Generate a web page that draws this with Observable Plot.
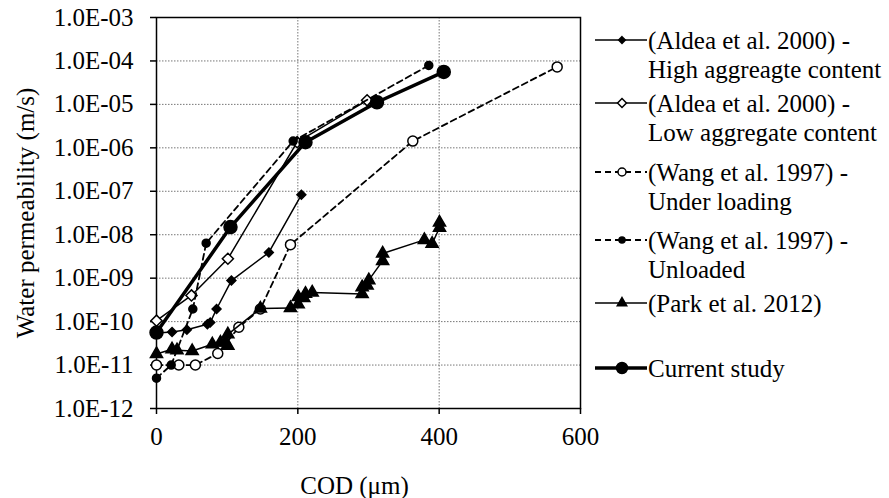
<!DOCTYPE html>
<html>
<head>
<meta charset="utf-8">
<script src="https://cdn.jsdelivr.net/npm/d3@7"></script>
<script src="https://cdn.jsdelivr.net/npm/@observablehq/plot@0.6"></script>
<style>
  html, body { margin: 0; padding: 0; background: white; }
  #wrap { position: relative; width: 889px; height: 498px; }
  #chart { position: absolute; left: 0; top: 0; }
  #legend { position: absolute; left: 590px; top: 0; }
  svg text { font-family: "Liberation Serif", "Times New Roman", Tinos, "DejaVu Serif", serif !important; }
</style>
</head>
<body>
<div id="wrap"><div id="chart"></div><svg id="legend" width="299" height="498"></svg></div>
<script>
// ---- data ----
const aldeaHighCOD = [0, 22, 43, 72, 76, 85, 106, 159, 205];
const aldeaHighK   = [5.5e-11, 5.8e-11, 6.5e-11, 8.7e-11, 9.5e-11, 1.95e-10, 8.8e-10, 3.9e-9, 8.3e-8];

const aldeaLowCOD = [0, 49.5, 101, 199, 298];
const aldeaLowK   = [1.05e-10, 4e-10, 2.8e-9, 1.35e-6, 1.24e-5];

const wangLoadCOD = [0, 31.6, 55, 86.7, 116.5, 147, 189.6, 362.7, 567];
const wangLoadK   = [1e-11, 1e-11, 1e-11, 1.85e-11, 7.4e-11, 1.95e-10, 5.9e-9, 1.43e-6, 7.3e-5];

const wangUnloadCOD = [0, 20.8, 51.4, 70.3, 193.4, 385.3];
const wangUnloadK   = [5e-12, 1e-11, 1.95e-10, 6.4e-9, 1.43e-6, 7.9e-5];

const parkCOD = [0, 22, 29, 50.5, 79, 90.5, 97.6, 101, 101, 147, 189.6, 200.5, 200.5, 208.4, 210.8, 220.3, 291, 291, 298, 300.4, 320, 320, 379, 390, 400.5, 400.5];
const parkK   = [1.8e-11, 2.3e-11, 2.2e-11, 2.1e-11, 3e-11, 3.3e-11, 3.3e-11, 2.8e-11, 5.1e-11, 2e-10, 2.05e-10, 2.5e-10, 3.7e-10, 3.5e-10, 4.4e-10, 4.7e-10, 4.3e-10, 6.2e-10, 6.8e-10, 9e-10, 2.5e-9, 3.7e-9, 7.6e-9, 6.2e-9, 1.45e-8, 1.9e-8];

const currentCOD = [0, 104.7, 210.8, 312, 406.5];
const currentK   = [5.6e-11, 1.5e-8, 1.35e-6, 1.12e-5, 5.6e-5];

const xTicks = [0, 200, 400, 600];
const yTicks = [1e-12, 1e-11, 1e-10, 1e-9, 1e-8, 1e-7, 1e-6, 1e-5, 1e-4, 1e-3];
const yTickLabels = ["1.0E-12","1.0E-11","1.0E-10","1.0E-09","1.0E-08","1.0E-07","1.0E-06","1.0E-05","1.0E-04","1.0E-03"];

const legendLabels = [
  ["(Aldea et al. 2000) -", "High aggreagte content"],
  ["(Aldea et al. 2000) -", "Low aggregate content"],
  ["(Wang et al. 1997) -", "Under loading"],
  ["(Wang et al. 1997) -", "Unloaded"],
  ["(Park et al. 2012)"],
  ["Current study"]
];

const rows = (xs, ys) => xs.map((x, i) => ({x, y: ys[i]}));

const series = [
  {data: rows(aldeaHighCOD, aldeaHighK), dash: null, width: 1.5, symbol: "diamond2", r: 4, fill: "black"},
  {data: rows(aldeaLowCOD, aldeaLowK), dash: null, width: 1.5, symbol: "diamond2", r: 5, fill: "white"},
  {data: rows(wangLoadCOD, wangLoadK), dash: "6,4", width: 1.8, symbol: "circle", r: 5, fill: "white"},
  {data: rows(wangUnloadCOD, wangUnloadK), dash: "6,4", width: 1.8, symbol: "circle", r: 4, fill: "black"},
  {data: rows(parkCOD, parkK), dash: null, width: 1.5, symbol: "triangle", r: 4.5, fill: "black"},
  {data: rows(currentCOD, currentK), dash: null, width: 3.5, symbol: "circle", r: 6.5, fill: "black"}
];

const FONT = "Liberation Serif";
const FS = 25;
const grid = {stroke: "#777", strokeWidth: 1, strokeDasharray: "1.5,1.5"};

const marks = [
  Plot.ruleY(yTicks.slice(1, -1), grid),
  Plot.ruleX([200, 400], grid),
  Plot.frame({stroke: "black", strokeWidth: 1.5}),
  Plot.axisX({ticks: xTicks, tickFormat: d => String(d), tickSize: 6, tickPadding: 13, label: null, strokeWidth: 1.5, fontSize: FS}),
  Plot.axisY({ticks: yTicks, tickFormat: d => yTickLabels[yTicks.indexOf(d)], tickSize: 6, tickPadding: 17, label: null, strokeWidth: 1.5, fontSize: FS}),
  Plot.text(["COD (μm)"], {text: d => d, frameAnchor: "bottom", textAnchor: "middle", dx: -14, dy: 77, lineAnchor: "middle", fontSize: FS}),
  Plot.text(["Water permeability (m/s)"], {text: d => d, frameAnchor: "left", textAnchor: "middle", rotate: -90, dx: -131, lineAnchor: "middle", fontSize: FS})
];
for (const s of series) {
  marks.push(Plot.line(s.data, {x: "x", y: "y", stroke: "black", strokeWidth: s.width, strokeDasharray: s.dash}));
  marks.push(Plot.dot(s.data, {x: "x", y: "y", symbol: s.symbol, r: s.r, fill: s.fill, stroke: "black", strokeWidth: 1.5}));
}

const chart = Plot.plot({
  width: 600, height: 498,
  marginLeft: 156, marginRight: 20, marginTop: 17, marginBottom: 90,
  x: {domain: [0, 600]},
  y: {type: "log", domain: [1e-12, 1e-3]},
  style: {fontFamily: FONT, fontSize: FS + "px", color: "black", background: "white", overflow: "visible"},
  marks
});
document.getElementById("chart").appendChild(chart);

// ---- legend ----
const lg = d3.select("#legend").style("font-size", FS + "px");
const ys = [40, 103, 172, 240, 303, 368];
const symMap = {diamond2: d3.symbolDiamond2, circle: d3.symbolCircle, triangle: d3.symbolTriangle};
series.forEach((s, i) => {
  const g = lg.append("g").attr("transform", `translate(0,${ys[i]})`);
  g.append("line").attr("x1", 5).attr("x2", 57).attr("y1", 0).attr("y2", 0)
    .attr("stroke", "black").attr("stroke-width", s.width).attr("stroke-dasharray", s.dash);
  const rr = i === 5 ? 5.5 : (s.r - 1);
  g.append("path").attr("d", d3.symbol(symMap[s.symbol], Math.PI * rr * rr)())
    .attr("transform", "translate(32,0)").attr("fill", s.fill).attr("stroke", "black").attr("stroke-width", 1.5);
  legendLabels[i].forEach((t, j) => {
    g.append("text").attr("x", 58).attr("y", j * 29).attr("dy", "0.35em").text(t);
  });
});
</script>
</body>
</html>
